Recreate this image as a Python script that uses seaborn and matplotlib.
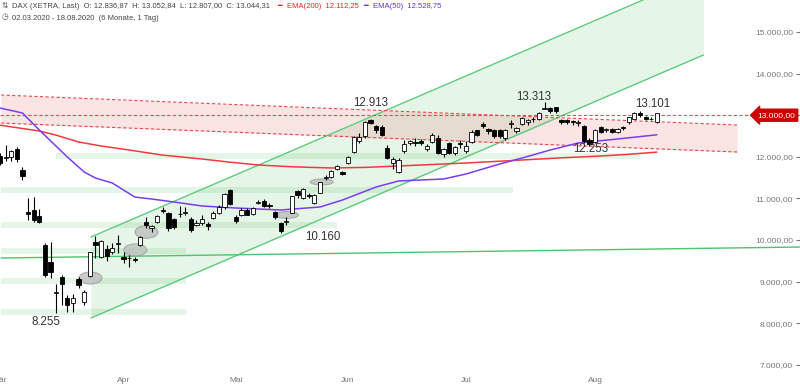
import numpy as np
import pandas as pd
import matplotlib
matplotlib.use('Agg')
import matplotlib.pyplot as plt
import matplotlib.transforms as mtransforms
from matplotlib.patches import Ellipse
import seaborn as sns

# trading days (Xetra holidays removed)
holidays = ['2020-04-10', '2020-04-13', '2020-05-01', '2020-06-01']
dates = pd.bdate_range('2020-03-02', '2020-08-18')
dates = dates[~dates.isin(pd.to_datetime(holidays))]

opens = [12030, 11960, 11990, 12190, 11690, 10680, 10720, 10580, 9880, 9480, 8720, 9110, 8600, 8480, 9060, 8510,
         9130, 9960, 9590, 9790, 9720, 9900,
         9600, 9560, 9540, 9880, 10430, 10280, 10440, 10700, 10640, 10500, 10620, 10650, 10510, 10350, 10420, 10380,
         10530, 10660, 10800, 11200,
         10550, 10600, 10730, 10620, 10880, 10940, 10840, 10680, 10410, 10440, 10660, 11180, 11020, 11090, 10890,
         11140, 11480, 11520, 11710, 11630,
         11860, 12120, 12380, 12500, 12880, 12740, 12710, 12210, 11860, 11640, 12140, 12340, 12360, 12390, 12187,
         12355, 12450, 12067, 12330, 12091, 12330,
         12140, 12360, 12640, 12800, 12680, 12640, 12650, 12450, 12790, 12620, 12790, 12840, 12900, 12910, 13160,
         13173, 13190, 12880, 12880, 12870, 12820, 12740, 12403,
         12355, 12716, 12640, 12680, 12600, 12720, 12830, 12920, 13050, 12960, 12900, 12836.87]
highs = [12080, 12280, 12170, 12240, 11750, 11020, 11040, 10740, 9930, 9950, 8950, 9160, 8680, 8700, 9100, 8800,
         9720, 10100, 9990, 9870, 9930, 10120,
         9700, 9640, 9590, 10090, 10560, 10350, 10600, 10800, 10680, 10530, 10820, 10800, 10560, 10470, 10600, 10430,
         10700, 10850, 11130, 11230,
         10600, 10780, 10780, 10800, 10950, 10980, 10880, 10700, 10440, 10560, 11060, 11200, 11240, 11120, 11100,
         11400, 11560, 11680, 11800, 11660,
         12030, 12500, 12560, 12860, 12913, 12760, 12760, 12290, 12000, 11960, 12400, 12400, 12460, 12420, 12300,
         12560, 12520, 12200, 12360, 12260, 12400,
         12370, 12650, 12650, 12830, 12700, 12660, 12680, 12660, 12880, 12720, 12950, 12900, 12960, 13080, 13313,
         13190, 13200, 12900, 12900, 12890, 12880, 12760, 12450,
         12680, 12740, 12700, 12700, 12700, 12750, 12960, 13070, 13101, 12990, 12960, 13052.84]
lows = [11800, 11900, 11890, 11880, 11440, 10480, 10440, 10400, 9100, 9090, 8255, 8440, 8270, 8270, 8850, 8440,
        9100, 9570, 9560, 9500, 9660, 9690,
        9450, 9350, 9470, 9860, 10280, 10190, 10410, 10650, 10220, 10260, 10550, 10600, 10200, 10330, 10350, 10250,
        10500, 10620, 10750, 10830,
        10420, 10570, 10590, 10600, 10860, 10800, 10760, 10500, 10160, 10360, 10640, 11020, 10990, 11000, 10860,
        11120, 11450, 11480, 11680, 11560,
        11830, 12100, 12340, 12460, 12780, 12560, 12500, 11950, 11700, 11620, 12100, 12290, 12250, 12280, 12150,
        12330, 12060, 11990, 12060, 12040, 12220,
        12090, 12340, 12500, 12690, 12540, 12460, 12450, 12400, 12700, 12570, 12770, 12770, 12840, 12880, 13140,
        13060, 13060, 12800, 12780, 12760, 12740, 12330, 12253,
        12330, 12560, 12600, 12560, 12560, 12650, 12800, 12900, 12960, 12880, 12880, 12807.00]
closes = [11857, 11985, 12128, 11944, 11541, 10625, 10475, 10439, 9161, 9232, 8742, 8939, 8442, 8610, 8929, 8742,
          9700, 9874, 9975, 9620, 9816, 9936,
          9544, 9571, 9525, 10075, 10356, 10332, 10565, 10697, 10280, 10301, 10626, 10676, 10250, 10416, 10514, 10336,
          10660, 10796, 11108, 10862,
          10467, 10730, 10607, 10759, 10904, 10825, 10820, 10542, 10210, 10465, 11058, 11075, 11223, 11066, 11074,
          11391, 11504, 11657, 11781, 11587,
          11995, 12476, 12470, 12848, 12820, 12642, 12530, 11970, 11949, 11911, 12316, 12382, 12341, 12331, 12263,
          12523, 12093, 12177, 12089, 12232, 12311,
          12260, 12608, 12528, 12733, 12616, 12495, 12489, 12633, 12800, 12697, 12931, 12874, 12920, 13046, 13171,
          13104, 13103, 12838, 12839, 12835, 12822, 12379, 12313,
          12647, 12601, 12660, 12591, 12674, 12687, 12946, 13058, 12993, 12901, 12920, 13044.31]

# moving averages (trading day index, value)
ema200_day = [0, 3, 7, 10, 14, 18, 23, 29, 36, 41, 46, 52, 59, 65, 71, 77, 83, 93, 100, 107, 112, 117]
ema200_val = [12760, 12700, 12620, 12520, 12356, 12260, 12163, 12040, 11947, 11870, 11803, 11760, 11731, 11745,
              11779, 11815, 11851, 11923, 11975, 12019, 12060, 12112.25]
ema50_day = [0, 4, 7, 12, 15, 17, 20, 24, 27, 31, 36, 42, 50, 57, 61, 67, 71, 79, 83, 89, 93, 98, 103, 110, 117]
ema50_val = [13173, 13053, 12644, 11995, 11634, 11490, 11370, 11033, 10985, 10913, 10817, 10769, 10721, 10793,
             10961, 11274, 11418, 11466, 11586, 11827, 11971, 12163, 12332, 12428, 12528.75]

# drawn objects: rising channel, falling band, trend line, support zones, marked areas
channel_day = [16.2, 125.3]
channel_low = [8125, 14447]
channel_high = [10072, 16394]
band_day = [0.18, 131.3]
band_high = [13485, 12764]
band_low = [12812, 12115]
trend_day = [0.18, 142.5]
trend_val = [9567, 9831]
zone_bottom = [11947, 11130, 10288, 9663, 8942, 8197]
zone_top = [12090, 11274, 10433, 9807, 9086, 8341]
zone_start = [9.96, 0.18, 0.18, 0.18, 0.18, 0.18]
zone_end = [114.0, 91.3, 60.1, 33.1, 33.1, 33.1]
mark_day = [16.1, 24.1, 26.1, 51.1, 57.3]
mark_val = [9086, 9760, 10192, 10601, 11394]
mark_height = [290, 290, 300, 165, 145]

peak_labels = ['8.255', '10.160', '12.913', '13.313', '12.253', '13.101']
peak_day = [8.2, 57.5, 66.0, 95.0, 105.3, 116.2]
peak_val = [8030, 10060, 13290, 13440, 12190, 13260]

month_names = ['Mär', 'Apr', 'Mai', 'Jun', 'Jul', 'Aug']
y_ticks = [7000, 8000, 9000, 10000, 11000, 12000, 13000, 14000, 15000]
level = 13000


def de_fmt(v):
    s = f"{v:,.2f}"
    return s.replace(',', 'X').replace('.', ',').replace('X', '.')


sns.set_style('white')
plt.rcParams['font.family'] = ['Liberation Sans', 'DejaVu Sans']

fig = plt.figure(figsize=(8, 3.9), dpi=100)
ax = fig.add_axes([0, 0, 1, 1])

idx = np.arange(len(dates))
o = np.array(opens)
c = np.array(closes)

# rising channel
ax.fill_between(channel_day, channel_low, channel_high, color='#3cb44b', alpha=0.13, lw=0, zorder=1)
ax.plot(channel_day, channel_low, color='#5ccc7d', lw=1.0, zorder=2)
ax.plot(channel_day, channel_high, color='#5ccc7d', lw=1.0, zorder=2)

# falling band
ax.fill_between(band_day, band_low, band_high, color='#ea4a50', alpha=0.15, lw=0, zorder=1)
ax.plot(band_day, band_high, color='#e8474d', lw=0.8, ls=(0, (3, 2)), zorder=2)
ax.plot(band_day, band_low, color='#e8474d', lw=0.8, ls=(0, (3, 2)), zorder=2)
ax.axhline(level, xmin=0, xmax=757 / 800, color='#e8474d', lw=0.8, ls=(0, (3, 2)), zorder=2)

# support zones
for b, t, s, e in zip(zone_bottom, zone_top, zone_start, zone_end):
    ax.fill_between([s, e], [b, b], [t, t], color='#3cb44b', alpha=0.13, lw=0, zorder=1)

ax.plot(trend_day, trend_val, color='#4cc46e', lw=1.0, zorder=2)

for d, v, h in zip(mark_day, mark_val, mark_height):
    ax.add_patch(Ellipse((d, v), 4.1, h, facecolor='#bcbcbc', edgecolor='#9a9a9a', alpha=0.75, lw=0.8, zorder=3))

# moving averages
sns.lineplot(x=ema200_day, y=ema200_val, color='#f23a3d', lw=1.1, ax=ax, zorder=3)
sns.lineplot(x=ema50_day, y=ema50_val, color='#7c3cf0', lw=1.1, ax=ax, zorder=3)

# candles
ax.vlines(idx, lows, highs, color='black', lw=0.8, zorder=4)
body_bottom = np.minimum(o, c)
body_height = np.maximum(np.abs(c - o), 14)
face = np.where(c >= o, 'white', 'black')
ax.bar(idx, body_height, bottom=body_bottom, width=0.75, color=face, edgecolor='black', lw=0.6, zorder=5)

for lab, d, v in zip(peak_labels, peak_day, peak_val):
    ax.text(d, v, lab, ha='center', va='center', fontsize=8.3, color='#333333', zorder=6)

# price tag on the right
trans = mtransforms.blended_transform_factory(ax.transAxes, ax.transData)
ax.text(0.994, level, '13.000,00', transform=trans, ha='right', va='center', fontsize=6, color='white', zorder=10,
        bbox=dict(boxstyle='larrow,pad=0.3', fc='#cc0000', ec='#cc0000'))

ax.set_xlim(0.18, 142.5)
ax.set_ylim(6393.7, 15769.3)

month_pos = [int(np.argmax((dates.month == m))) for m in [3, 4, 5, 6, 7, 8]]
ax.set_xticks(month_pos)
ax.set_xticklabels(month_names)
ax.set_yticks(y_ticks)
ax.set_yticklabels(['' if v == level else de_fmt(v) for v in y_ticks])
ax.yaxis.tick_right()
ax.tick_params(axis='y', direction='in', length=3, pad=-5, labelsize=6, colors='#777777')
ax.tick_params(axis='x', direction='in', length=2, pad=-9, labelsize=6, colors='#777777')
for lbl in ax.get_yticklabels():
    lbl.set_horizontalalignment('right')
for sp in ax.spines.values():
    sp.set_visible(False)
ax.set_xlabel('')
ax.set_ylabel('')

# header
y1 = 1 - 7 / 390
y2 = 1 - 18 / 390
fs = 5.5
fig.text(2 / 800, y1, '⇅', fontsize=fs, color='#555555', va='center')
fig.text(12 / 800, y1, 'DAX (XETRA, Last)  O: 12.836,87  H: 13.052,84  L: 12.807,00  C: 13.044,31',
         fontsize=fs, color='#444444', va='center')
fig.text(277 / 800, y1, '━', fontsize=fs, color='#ee2222', va='center')
fig.text(287 / 800, y1, 'EMA(200)  12.112,25', fontsize=fs, color='#ee2222', va='center')
fig.text(363 / 800, y1, '━', fontsize=fs, color='#6a2ee8', va='center')
fig.text(373 / 800, y1, 'EMA(50)  12.528,75', fontsize=fs, color='#6a2ee8', va='center')
fig.text(2 / 800, y2, '◷', fontsize=fs, color='#555555', va='center')
fig.text(12 / 800, y2, '02.03.2020 - 18.08.2020  (6 Monate, 1 Tag)', fontsize=fs, color='#444444', va='center')

fig.savefig('out.png', dpi=100)
